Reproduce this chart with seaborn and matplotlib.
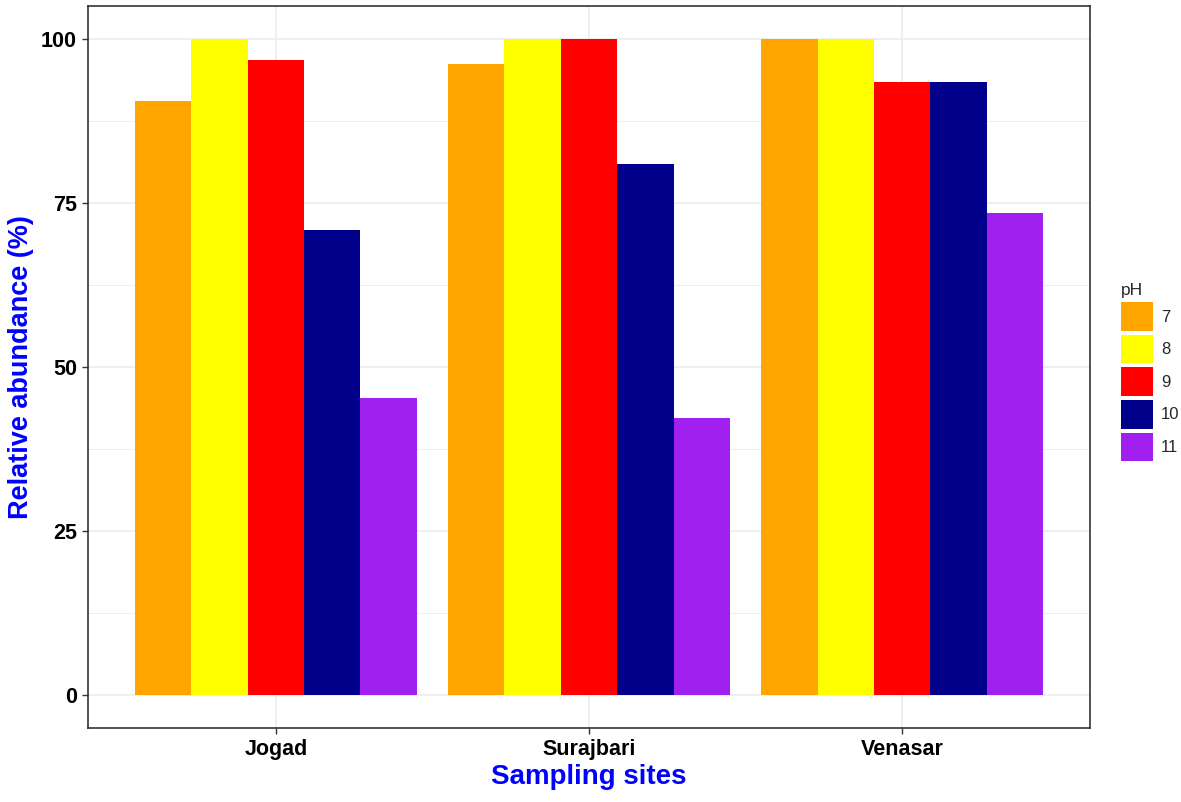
import pandas as pd
import seaborn as sns
import matplotlib.pyplot as plt
from matplotlib.ticker import MultipleLocator

# data
sites = ["Jogad", "Surajbari", "Venasar"]
ph_levels = ["7", "8", "9", "10", "11"]
ph7 = [90.5, 96.2, 100.0]
ph8 = [100.0, 100.0, 100.0]
ph9 = [96.8, 100.0, 93.4]
ph10 = [70.9, 80.9, 93.4]
ph11 = [45.3, 42.3, 73.5]
colors = ["#FFA500", "#FFFF00", "#FF0000", "#00008B", "#A020F0"]

rows = []
for ph, vals in zip(ph_levels, [ph7, ph8, ph9, ph10, ph11]):
    for s, v in zip(sites, vals):
        rows.append({"site": s, "pH": ph, "abundance": v})
df = pd.DataFrame(rows)

sns.set_style("white")
plt.rcParams["font.family"] = ["Liberation Sans", "DejaVu Sans"]

W, H = 1181, 802
fig = plt.figure(figsize=(W / 100, H / 100), dpi=100)
ax = fig.add_axes([88 / W, 1 - 728 / H, (1090 - 88) / W, (728 - 6) / H])

sns.barplot(
    data=df, x="site", y="abundance", hue="pH",
    order=sites, hue_order=ph_levels,
    palette=colors, saturation=1, width=0.9,
    linewidth=0, ax=ax, zorder=3
)

ax.set_xlim(-0.6, 2.6)
ax.set_ylim(-5, 105)
ax.yaxis.set_major_locator(MultipleLocator(25))
ax.yaxis.set_minor_locator(MultipleLocator(12.5))
ax.grid(True, which="major", color="#EBEBEB", linewidth=1.1, zorder=0)
ax.grid(True, which="minor", axis="y", color="#EBEBEB", linewidth=0.6, zorder=0)
ax.set_axisbelow(True)

for sp in ax.spines.values():
    sp.set_color("#333333")
    sp.set_linewidth(1.2)

ax.tick_params(axis="both", which="major", length=4, width=1, color="#333333",
               labelsize=15.5, labelcolor="black", direction="out",
               bottom=True, left=True, pad=4)
ax.tick_params(axis="y", which="minor", length=0)
for lab in ax.get_xticklabels() + ax.get_yticklabels():
    lab.set_fontweight("bold")

ax.set_xlabel("Sampling sites", fontsize=20, fontweight="bold", color="#0000FF", labelpad=3)
ax.set_ylabel("Relative abundance (%)", fontsize=19.5, fontweight="bold", color="#0000FF")
ax.yaxis.set_label_coords((34 - 88) / 1002, 0.5)

# legend on the right side
handles, labels = ax.get_legend_handles_labels()
ax.get_legend().remove()
leg = fig.legend(
    handles, labels, title="pH", loc="upper left",
    bbox_to_anchor=(1106 / W, 1 - 268 / H),
    frameon=False, fontsize=12, title_fontsize=12.5,
    handlelength=1.9, handleheight=2.25, labelspacing=0.25,
    handletextpad=0.5, alignment="left"
)

fig.savefig("out.png", dpi=100)
